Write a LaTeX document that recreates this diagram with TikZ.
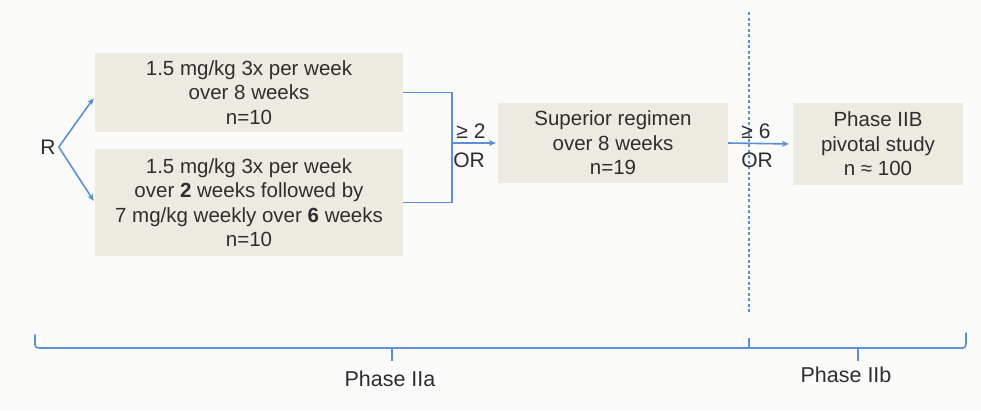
\documentclass[tikz,border=0pt]{standalone}
\usepackage{fontspec}
\setmainfont{Liberation Sans}
\usetikzlibrary{arrows.meta}
\definecolor{lineblue}{HTML}{5B8FD6}
\definecolor{boxfill}{HTML}{EDEAE2}
\definecolor{txt}{HTML}{2E2E2E}
\definecolor{bg}{HTML}{FBFBFA}
\tikzset{
  box/.style={fill=boxfill, draw=none, align=center, text=txt, inner sep=0pt,
    font=\fontsize{20.5}{24.5}\selectfont},
  lab/.style={text=txt, inner sep=0pt, font=\fontsize{21}{24}\selectfont},
  conn/.style={draw=lineblue, line width=1.6pt},
  arr/.style={conn, -{Stealth[length=7pt,width=6pt]}},
}
\begin{document}
\begin{tikzpicture}[x=1pt,y=-1pt]
\fill[bg] (0,0) rectangle (981,410);
\useasboundingbox (0,0) rectangle (981,410);

\node[box, minimum width=308pt, minimum height=79pt] (b1) at (249,92.5)
  {1.5 mg/kg 3x per week\\over 8 weeks\\n=10};
\node[box, minimum width=308pt, minimum height=107pt] (b2) at (249,202.5)
  {1.5 mg/kg 3x per week\\over \textbf{2} weeks followed by\\7 mg/kg weekly over \textbf{6} weeks\\n=10};
\node[box, minimum width=230pt, minimum height=80pt] (b3) at (613,143)
  {Superior regimen\\over 8 weeks\\n=19};
\node[box, minimum width=170pt, minimum height=82pt] (b4) at (878,144)
  {Phase IIB\\pivotal study\\n ≈ 100};

\node[lab] (R) at (48,147) {R};
\draw[arr, shorten >=2pt] ([xshift=3pt]R.east) -- ([yshift=-4pt]b1.west);
\draw[arr, shorten >=2pt] ([xshift=3pt]R.east) -- ([yshift=0pt]b2.west);

\coordinate (j) at (452,143);
\draw[conn] (b1.east) -| (j) |- (b2.east);
\draw[arr, shorten >=2pt] (j) -- (b3.west);
\node[lab] (g2) at (471,131) {≥ 2};
\node[lab] (or1) at (469,160) {OR};

\coordinate (d1) at (749,12);
\coordinate (d2) at (749,312);
\draw[lineblue, line width=1.4pt, dash pattern=on 3pt off 2.5pt] (d1) -- (d2);

\draw[arr, shorten >=4pt] (b3.east) -- (b4.west);
\node[lab] (g6) at (756,131) {≥ 6};
\node[lab] (or2) at (757,160) {OR};

% brackets
\draw[conn, line cap=round, line join=round]
  (35,335) -- (35,345) to[out=-90,in=180] (39,348) -- (963,348) to[out=0,in=-90] (966,344) -- (966,333);
\draw[conn] (749,338) -- (749,348);
\draw[conn] (392,348) -- (392,361);
\draw[conn] (858,348) -- (858,361);

\node[lab, font=\fontsize{21.5}{24}\selectfont] (p1) at (390,379) {Phase IIa};
\node[lab, font=\fontsize{21.5}{24}\selectfont] (p2) at (846,375) {Phase IIb};
\end{tikzpicture}
\end{document}
